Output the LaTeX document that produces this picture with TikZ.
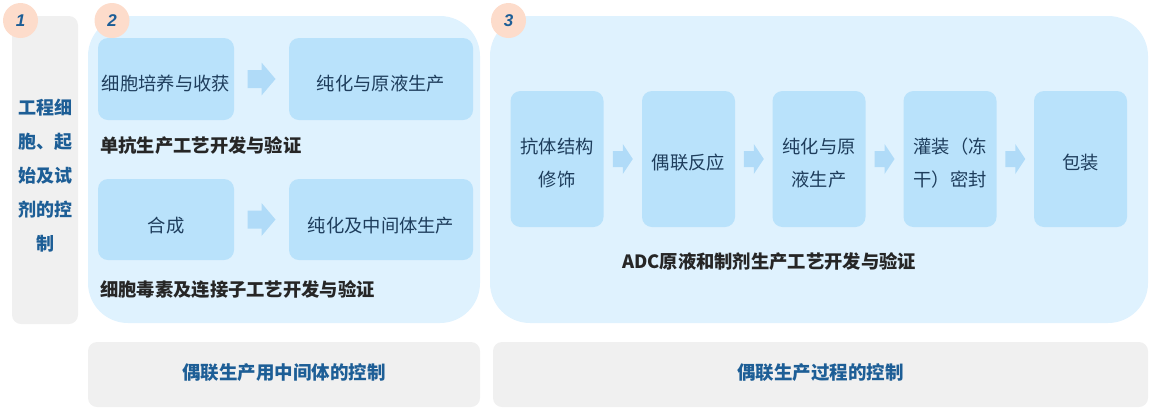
\documentclass[tikz,border=0pt]{standalone}
\usepackage{fontspec}
\setmainfont{Noto Sans CJK SC}
\newfontfamily\numfont{Liberation Sans}
\usetikzlibrary{calc}
\definecolor{panelblue}{HTML}{DFF2FE}
\definecolor{boxblue}{HTML}{B9E2FB}
\definecolor{arrowblue}{HTML}{B0DBF8}
\definecolor{graybg}{HTML}{F0F0F0}
\definecolor{titleblue}{HTML}{1D5E96}
\definecolor{boxtext}{HTML}{1E3D5C}
\definecolor{darktext}{HTML}{262626}
\definecolor{peach}{HTML}{FDDCCB}
\begin{document}
\begin{tikzpicture}[x=1pt,y=-1pt,
  panel/.style={fill=panelblue, rounded corners=40pt, inner sep=0pt},
  graypanel/.style={fill=graybg, rounded corners=9pt, inner sep=0pt},
  stepbox/.style={fill=boxblue, rounded corners=10pt, inner sep=0pt},
  boxlabel/.style={inner sep=0pt, align=center, text=boxtext, font=\fontsize{18.3}{33}\selectfont},
  sectitle/.style={text=darktext, font=\fontsize{18.3}{20}\selectfont\bfseries, inner sep=0pt},
  ctrltext/.style={text=titleblue, font=\fontsize{18.5}{20}\selectfont\bfseries, inner sep=0pt},
  numcirc/.style={circle, fill=peach, minimum size=35pt, inner sep=0pt,
     text=titleblue, font=\numfont\fontsize{17}{17}\selectfont\bfseries\itshape},
  bigarrow/.pic={\fill[arrowblue] (-14,-9) -- (0,-9) -- (0,-16.5) -- (14,0) -- (0,16.5) -- (0,9) -- (-14,9) -- cycle;},
  smallarrow/.pic={\fill[arrowblue] (-10,-8) -- (0,-8) -- (0,-15) -- (10,0) -- (0,15) -- (0,8) -- (-10,8) -- cycle;}
]
\useasboundingbox (0,0) rectangle (1155,408);

% panels
\node[graypanel, minimum width=66pt, minimum height=308pt] (p1) at (45,170) {};
\node[panel, minimum width=392pt, minimum height=307pt] (p2) at (284,169.5) {};
\node[panel, minimum width=658pt, minimum height=307pt] (p3) at (819,169.5) {};

% number circles
\node[numcirc] (n1) at (20.5,20.5) {1};
\node[numcirc] (n2) at (112,20.5) {2};
\node[numcirc] (n3) at (508.5,20.5) {3};

% panel 1 text
\node[ctrltext, align=center, font=\fontsize{18}{34}\selectfont\bfseries] (t1) at (45,175.5)
  {工程细\\胞、起\\始及试\\剂的控\\制};

% panel 2
\node[stepbox, minimum width=136pt, minimum height=82pt] (a1) at (166,79) {};
\node[boxlabel] (a1t) at ([yshift=-5pt]a1.center) {细胞培养与收获};
\node[stepbox, minimum width=184pt, minimum height=82pt] (a2) at (381,79) {};
\node[boxlabel] (a2t) at ([yshift=-5pt]a2.center) {纯化与原液生产};
\pic at ($(a1.east)!0.5!(a2.west)$) {bigarrow};
\node[sectitle, anchor=west] (s1) at (100,146) {单抗生产工艺开发与验证};

\node[stepbox, minimum width=136pt, minimum height=81pt] (b1) at (166,219.5) {};
\node[boxlabel] (b1t) at ([yshift=-6pt]b1.center) {合成};
\node[stepbox, minimum width=184pt, minimum height=81pt] (b2) at (381,219.5) {};
\node[boxlabel] (b2t) at ([yshift=-6pt]b2.center) {纯化及中间体生产};
\pic at ($(b1.east)!0.5!(b2.west)$) {bigarrow};
\node[sectitle, anchor=west] (s2) at (100,290) {细胞毒素及连接子工艺开发与验证};

% panel 3
\foreach \n/\x/\t in {c1/557/{抗体结构\\修饰}, c2/688.5/{偶联反应}, c3/819/{纯化与原\\液生产}, c4/950/{灌装（冻\\干）密封}, c5/1080.5/{包装}}{
  \node[stepbox, minimum width=93pt, minimum height=136pt] (\n) at (\x,159) {};
  \node[boxlabel] (\n t) at ([yshift=-4pt]\n.center) {\t};
}
\pic at ($(c1.east)!0.5!(c2.west)$) {smallarrow};
\pic at ($(c2.east)!0.5!(c3.west)$) {smallarrow};
\pic at ($(c3.east)!0.5!(c4.west)$) {smallarrow};
\pic at ($(c4.east)!0.5!(c5.west)$) {smallarrow};
\node[sectitle] (s3) at (769,262) {ADC原液和制剂生产工艺开发与验证};

% bottom boxes
\node[graypanel, minimum width=392pt, minimum height=65pt] (d1) at (284,374.5) {};
\node[ctrltext] (d1t) at ([yshift=2pt]d1.center) {偶联生产用中间体的控制};
\node[graypanel, minimum width=655pt, minimum height=65pt] (d2) at (820.5,374.5) {};
\node[ctrltext] (d2t) at ([yshift=2pt]d2.center) {偶联生产过程的控制};
\end{tikzpicture}
\end{document}
